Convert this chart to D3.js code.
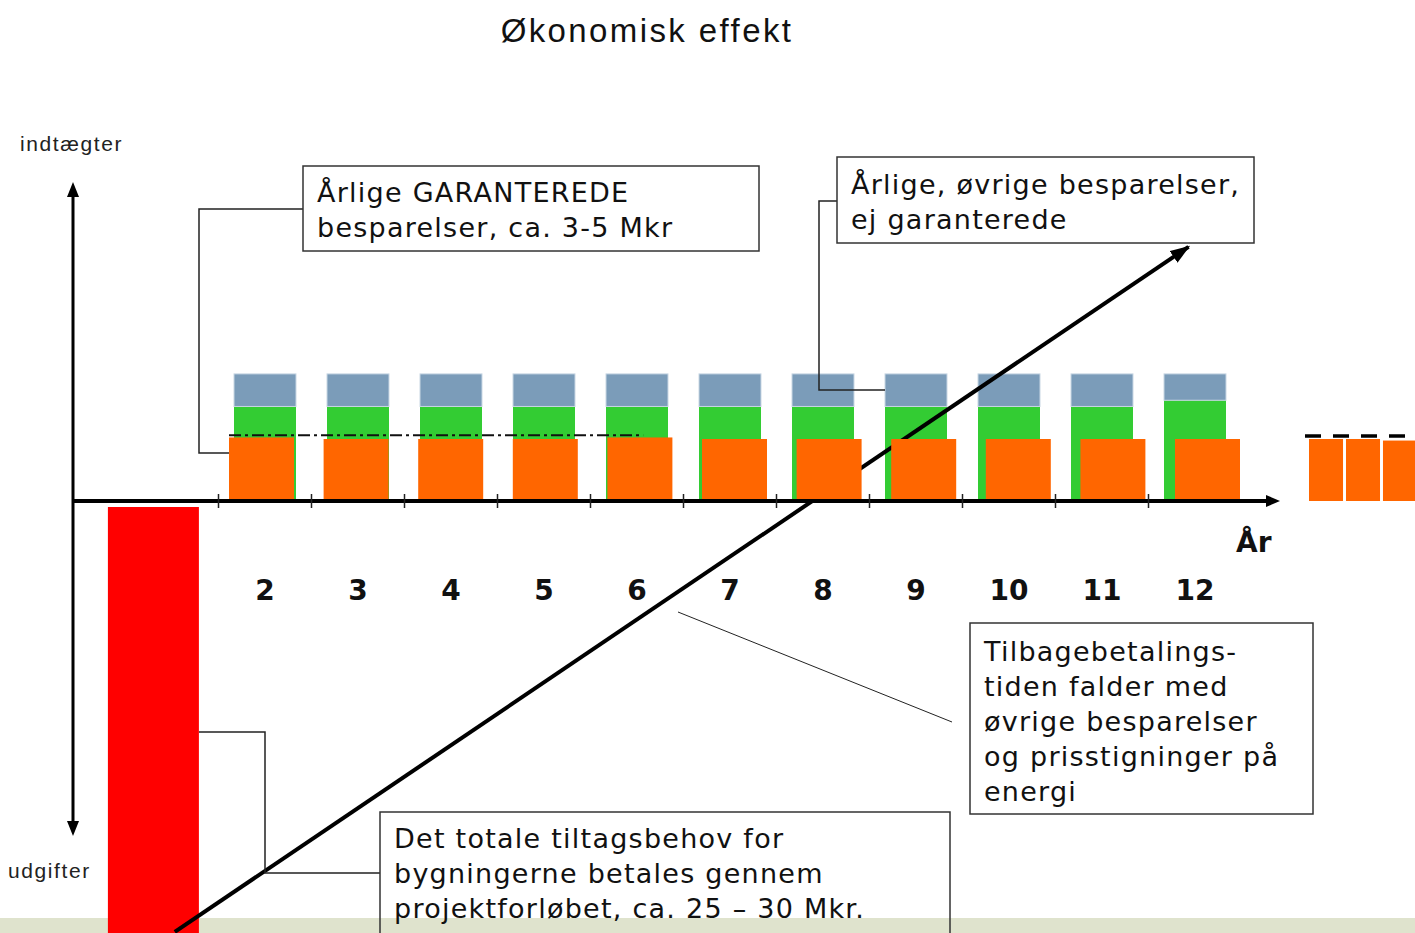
<html>
<head>
<meta charset="utf-8">
<script src="https://d3js.org/d3.v7.min.js"></script>
<style>
body { margin: 0; background: #fff; }
svg { display: block; }
.boxtext { font-family: "DejaVu Sans", Verdana, sans-serif; font-size: 27px; letter-spacing: 1.25px; fill: #111; }
.side { font-family: "Liberation Sans", Arial, sans-serif; font-size: 21px; letter-spacing: 1.6px; fill: #222; }
.year { font-family: "DejaVu Sans", Verdana, sans-serif; font-size: 28px; font-weight: bold; fill: #111; }
</style>
</head>
<body>
<svg width="1415" height="933"></svg>
<script>

// years on the x axis
var years = ["2", "3", "4", "5", "6", "7", "8", "9", "10", "11", "12"];
// garanterede besparelser (orange), Mkr
var garanteret = [4.1, 4.0, 4.0, 4.0, 4.1, 4.0, 4.0, 4.0, 4.0, 4.0, 4.0];
// green part of the column, Mkr
var oevrige = [6.1, 6.1, 6.1, 6.1, 6.1, 6.1, 6.1, 6.1, 6.1, 6.1, 6.5];
// blue top of the column, Mkr
var ikkeGaranteret = [2.1, 2.1, 2.1, 2.1, 2.1, 2.1, 2.1, 2.1, 2.1, 2.1, 1.7];
// cut-off blocks at the right edge
var ekstraAar = ["13", "14", "15"];
var ekstraGaranteret = [4.0, 4.0, 3.9];
// investment (red bar) and payback line
var investering = -28;
var investeringAar = 0.8;
var tilbagebetaling = [{aar: 1.03, mkr: -27.8}, {aar: 11.93, mkr: 16.4}];
var garantiNiveau = 4.25;

var svg = d3.select("svg");

var x = d3.scaleBand()
    .domain(years)
    .range([218.5, 1241.5])
    .paddingInner(1/3)
    .paddingOuter(1/6);

var xo = d3.scaleBand()
    .domain(years)
    .range([214.2, 1254.8])
    .paddingInner(0.313)
    .paddingOuter(0.1565);

var xe = d3.scaleBand()
    .domain(ekstraAar)
    .range([1309, 1417])
    .paddingInner(0.08);

var xYear = d3.scaleLinear()
    .domain([2, 12])
    .range([x("2") + x.bandwidth() / 2, x("12") + x.bandwidth() / 2]);

var y = d3.scaleLinear()
    .domain([0, 10])
    .range([501, 346]);

var data = years.map(function(d, i) {
    return {aar: d, gar: garanteret[i], groen: oevrige[i], blaa: ikkeGaranteret[i]};
});

// bottom band
svg.append("rect").attr("x", 0).attr("y", 918).attr("width", 1415).attr("height", 15).attr("fill", "#dfe3cd");

// title and side labels
svg.append("text").attr("x", 647).attr("y", 42).attr("text-anchor", "middle")
    .style("font-family", "'Liberation Sans', Arial, sans-serif").style("font-size", "33px")
    .style("letter-spacing", "2.4px").attr("fill", "#111").text("Økonomisk effekt");
svg.append("text").attr("class", "side").attr("x", 20).attr("y", 151).text("indtægter");
svg.append("text").attr("class", "side").attr("x", 8).attr("y", 878).text("udgifter");

// columns: green + blue
var cols = svg.append("g");
cols.selectAll(".groen").data(data).enter().append("rect")
    .attr("x", d => x(d.aar))
    .attr("width", x.bandwidth())
    .attr("y", d => y(d.groen))
    .attr("height", d => y(0) - y(d.groen))
    .attr("fill", "#33cc33");
cols.selectAll(".blaa").data(data).enter().append("rect")
    .attr("x", d => x(d.aar))
    .attr("width", x.bandwidth())
    .attr("y", d => y(d.groen + d.blaa))
    .attr("height", d => y(d.groen) - y(d.groen + d.blaa))
    .attr("fill", "#7b9cb9")
    .attr("stroke", "#c9d7e4").attr("stroke-width", 1);

// red investment bar
svg.append("rect")
    .attr("x", xYear(investeringAar) - 45.5)
    .attr("width", 91)
    .attr("y", y(0) + 6)
    .attr("height", y(investering) - y(0))
    .attr("fill", "#ff0000");

// payback line
var defs = svg.append("defs");
defs.append("marker").attr("id", "pil").attr("markerUnits", "userSpaceOnUse")
    .attr("viewBox", "0 0 20 14").attr("refX", 18).attr("refY", 7)
    .attr("markerWidth", 20).attr("markerHeight", 14).attr("orient", "auto")
  .append("path").attr("d", "M0,0 L20,7 L0,14 Z").attr("fill", "#000");

var line = d3.line().x(d => xYear(d.aar)).y(d => y(d.mkr));
svg.append("path").datum(tilbagebetaling)
    .attr("d", line)
    .attr("fill", "none").attr("stroke", "#000").attr("stroke-width", 4)
    .attr("marker-end", "url(#pil)");

// orange guaranteed savings
svg.selectAll(".gar").data(data).enter().append("rect")
    .attr("x", d => xo(d.aar))
    .attr("width", xo.bandwidth())
    .attr("y", d => y(d.gar))
    .attr("height", d => y(0) - y(d.gar))
    .attr("fill", "#ff6600");

svg.selectAll(".ekstra").data(ekstraAar).enter().append("rect")
    .attr("x", d => xe(d))
    .attr("width", xe.bandwidth())
    .attr("y", (d, i) => y(ekstraGaranteret[i]))
    .attr("height", (d, i) => y(0) - y(ekstraGaranteret[i]))
    .attr("fill", "#ff6600");

// guaranteed level lines
svg.append("line")
    .attr("x1", xo("2")).attr("x2", xo("6") + xo.bandwidth() * 0.55)
    .attr("y1", y(garantiNiveau)).attr("y2", y(garantiNiveau))
    .attr("stroke", "#111").attr("stroke-width", 2)
    .attr("stroke-dasharray", "12,4,3,4");
svg.append("line")
    .attr("x1", 1305).attr("x2", 1415)
    .attr("y1", y(4.2)).attr("y2", y(4.2))
    .attr("stroke", "#000").attr("stroke-width", 3.5)
    .attr("stroke-dasharray", "16,12");

// axes
svg.append("line").attr("x1", 72).attr("x2", 1268).attr("y1", y(0)).attr("y2", y(0))
    .attr("stroke", "#000").attr("stroke-width", 4);
svg.append("path").attr("d", "M1266," + (y(0) - 6) + " L1280," + y(0) + " L1266," + (y(0) + 6) + " Z").attr("fill", "#000");
svg.append("line").attr("x1", 73).attr("x2", 73).attr("y1", 194).attr("y2", 824)
    .attr("stroke", "#000").attr("stroke-width", 3);
svg.append("path").attr("d", "M67,197 L73,182 L79,197 Z").attr("fill", "#000");
svg.append("path").attr("d", "M67,821 L73,836 L79,821 Z").attr("fill", "#000");

svg.selectAll(".tick").data(years).enter().append("line")
    .attr("x1", d => x(d) - x.step() * x.paddingInner() / 2)
    .attr("x2", d => x(d) - x.step() * x.paddingInner() / 2)
    .attr("y1", y(0) - 7).attr("y2", y(0) + 7)
    .attr("stroke", "#222").attr("stroke-width", 1.5);

svg.selectAll(".year").data(years).enter().append("text")
    .attr("class", "year")
    .attr("x", d => x(d) + x.bandwidth() / 2)
    .attr("y", 600)
    .attr("text-anchor", "middle")
    .text(d => d);
svg.append("text").attr("class", "year").attr("x", 1236).attr("y", 552).text("År");

// callouts
function leader(pts, w) {
    svg.append("path").attr("d", d3.line()(pts))
        .attr("fill", "none").attr("stroke", "#222").attr("stroke-width", w || 1.5);
}
function box(x0, y0, w, h, lines, tx, ty) {
    svg.append("rect").attr("x", x0).attr("y", y0).attr("width", w).attr("height", h)
        .attr("fill", "none").attr("stroke", "#333").attr("stroke-width", 1.5);
    lines.forEach(function(t, i) {
        svg.append("text").attr("class", "boxtext").attr("x", tx).attr("y", ty + i * 35).text(t);
    });
}

leader([[303, 209], [199, 209], [199, 453], [xo("2"), 453]]);
box(303, 166, 456, 85, ["Årlige GARANTEREDE", "besparelser, ca. 3-5 Mkr"], 317, 202);

leader([[837, 201], [819, 201], [819, 390], [x("9"), 390]]);
box(837, 157, 417, 86, ["Årlige, øvrige besparelser,", "ej garanterede"], 851, 194);

leader([[952, 722], [678, 612]], 1);
box(970, 623, 343, 191, ["Tilbagebetalings-", "tiden falder med", "øvrige besparelser", "og prisstigninger på", "energi"], 984, 661);

leader([[380, 873], [265, 873], [265, 732], [199, 732]]);
box(380, 812, 570, 140, ["Det totale tiltagsbehov for", "bygningerne betales gennem", "projektforløbet, ca. 25 – 30 Mkr."], 394, 848);

</script>
</body>
</html>
